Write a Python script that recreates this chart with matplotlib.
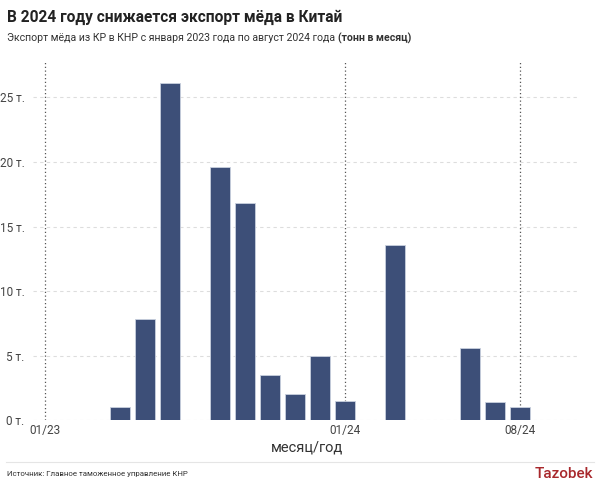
import matplotlib
matplotlib.use("Agg")
import matplotlib.pyplot as plt

# monthly export, tonnes (01/23 .. 08/24)
months = ["01/23", "02/23", "03/23", "04/23", "05/23", "06/23", "07/23", "08/23",
          "09/23", "10/23", "11/23", "12/23", "01/24", "02/24", "03/24", "04/24",
          "05/24", "06/24", "07/24", "08/24"]
tonnes = [0, 0, 0, 1.0, 7.8, 26.1, 0, 19.6, 16.8, 3.5, 2.0, 5.0, 1.5, 0, 13.6,
          0, 0, 5.6, 1.4, 1.0]
marked = ["01/23", "01/24", "08/24"]
yticks = [0, 5, 10, 15, 20, 25]

plt.rcParams["font.family"] = ["Roboto", "DejaVu Sans"]

fig = plt.figure(figsize=(6, 4.88), dpi=100)
ax = fig.add_axes([0.055, 0.139, 0.912, 0.738])

x = list(range(len(months)))
ax.bar(x, tonnes, width=0.8, color="#3d4f78", edgecolor="#c9d0de", linewidth=0.6, zorder=3)

# dotted markers for the labelled months
for m in marked:
    ax.axvline(months.index(m), color="#555555", linestyle=(0, (1, 2)), linewidth=0.9, zorder=2)

for v in yticks:
    ax.axhline(v, color="#dddddd", linestyle=(0, (3, 3)), linewidth=0.8, zorder=1)

ax.set_xlim(-0.48, 21.4)
ax.set_ylim(0, 27.9)
ax.set_yticks(yticks)
ax.set_yticklabels([f"{v} т." for v in yticks], fontsize=8.5, color="#444444")
ax.set_xticks([months.index(m) for m in marked])
ax.set_xticklabels(marked, fontsize=8.5, color="#444444")
ax.tick_params(length=0, pad=3)
ax.tick_params(axis="y", pad=6)
for s in ax.spines.values():
    s.set_visible(False)
ax.set_xlabel("месяц/год", fontsize=10.5, color="#333333", labelpad=2)

fig.text(0.012, 0.965, "В 2024 году снижается экспорт мёда в Китай",
         fontsize=11.2, fontweight="bold", color="#222222", va="center")
t1 = fig.text(0.012, 0.922, "Экспорт мёда из КР в КНР с января 2023 года по август 2024 года ",
              fontsize=7.6, color="#333333", va="center")
fig.canvas.draw()
bb = t1.get_window_extent()
fig.text(bb.x1 / fig.bbox.width, 0.922, "(тонн в месяц)", fontsize=7.6,
         fontweight="bold", color="#333333", va="center")

# footer
fig.add_artist(plt.Line2D([0.01, 0.99], [0.053, 0.053], transform=fig.transFigure,
                          color="#e5e5e5", linewidth=0.8))
fig.text(0.012, 0.028, "Источник: Главное таможенное управление КНР",
         fontsize=5.7, color="#333333", va="center")
fig.text(0.988, 0.028, "Tazobek", fontsize=11, fontweight="medium", color="#a8282c",
         va="center", ha="right")

fig.savefig("out.png", dpi=100)
